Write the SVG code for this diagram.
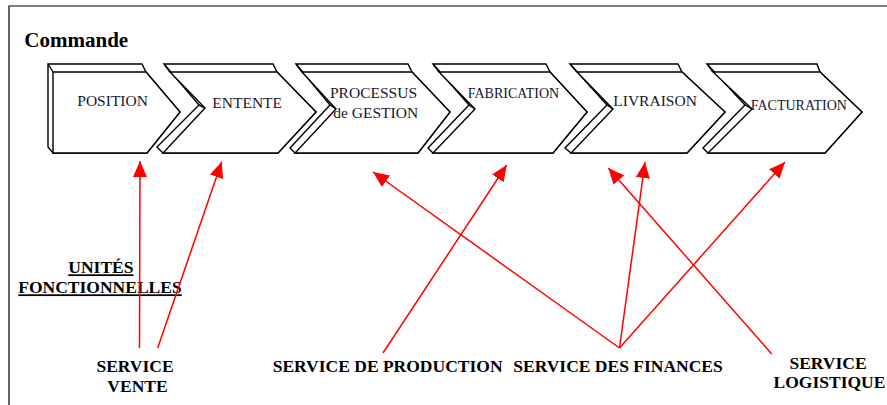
<svg xmlns="http://www.w3.org/2000/svg" width="887" height="405" viewBox="0 0 887 405">
  <style>
    .back { fill: #ffffff; stroke: #000; stroke-width: 1.4; stroke-linejoin: miter; }
    .front { fill: #ffffff; stroke: #000; stroke-width: 1.4; stroke-linejoin: miter; }
    .edge { fill: none; stroke: #000; stroke-width: 1.4; }
    .step { font-family: "Liberation Serif", "Times New Roman", serif; font-size: 15.5px; fill: #16162c; }
    .step-sm { font-size: 14px; }
    .title { font-family: "Liberation Serif", "Times New Roman", serif; font-weight: bold; fill: #000; }
    .unit { font-family: "Liberation Serif", "Times New Roman", serif; font-weight: bold; font-size: 17.5px; fill: #000; }
    .frame { stroke: #000; stroke-width: 1.2; fill: none; }
    .link { stroke: #ff0000; stroke-width: 1.5; fill: none; marker-end: url(#head); }
  </style>
  <defs>
    <marker id="head" viewBox="0 0 16 14" markerWidth="16" markerHeight="14" refX="16" refY="7" orient="auto" markerUnits="userSpaceOnUse">
      <path d="M0,0 L16,7 L0,14 Z" fill="#ff0000"/>
    </marker>
  </defs>

  <rect width="887" height="405" fill="#ffffff"/>

  <!-- page frame -->
  <path class="frame" d="M9,405 L9,6 L887,6"/>

  <text class="title" x="24.3" y="46.7" font-size="21">Commande</text>

  <!-- process chevrons -->
  <g id="position">
    <polygon class="back" points="48,64 142,64 146,72 180,112 147,153 53,153 48,147"/>
    <polygon class="front" points="53,72 146,72 180,112 147,153 53,153"/>
    <path class="edge" d="M48,64 L53,72"/>
    <text class="step" x="77.3" y="106">POSITION</text>
  </g>

  <g id="entente">
    <polygon class="back" points="164,64 273,64 277,72 316,112 278,153 163,153 157,147 199,105"/>
    <polygon class="front" points="170,72 277,72 316,112 278,153 163,153 205,108"/>
    <path class="edge" d="M164,64 L170,72 M199,105 L205,108"/>
    <text class="step" x="212.3" y="108.3">ENTENTE</text>
  </g>

  <g id="processus">
    <polygon class="back" points="296,64 408,64 412,72 450,112 418,153 295,153 290,148 330,105"/>
    <polygon class="front" points="302,72 412,72 450,112 418,153 295,153 336,109"/>
    <path class="edge" d="M296,64 L302,72 M330,105 L336,109"/>
    <text class="step" x="330" y="98.3">PROCESSUS</text>
    <text class="step" x="333.3" y="117.7">de GESTION</text>
  </g>

  <g id="fabrication">
    <polygon class="back" points="433,64 546,64 550,72 587,112 553,153 433,153 428,148 469,105"/>
    <polygon class="front" points="439,72 550,72 587,112 553,153 433,153 475,109"/>
    <path class="edge" d="M433,64 L439,72 M469,105 L475,109"/>
    <text class="step step-sm" x="467.7" y="98.3">FABRICATION</text>
  </g>

  <g id="livraison">
    <polygon class="back" points="570,64 678,64 682,72 725,112 687,153 571,153 565,148 607,105"/>
    <polygon class="front" points="577,72 682,72 725,112 687,153 571,153 613,109"/>
    <path class="edge" d="M570,64 L577,72 M607,105 L613,109"/>
    <text class="step" x="613.3" y="106">LIVRAISON</text>
  </g>

  <g id="facturation">
    <polygon class="back" points="707,64 817,64 820,72 862,112 825,153 708,153 703,148 745,105"/>
    <polygon class="front" points="713,72 820,72 862,112 825,153 708,153 752,109"/>
    <path class="edge" d="M707,64 L713,72 M745,105 L752,109"/>
    <text class="step step-sm" x="750.7" y="110">FACTURATION</text>
  </g>

  <!-- functional units -->
  <g id="unites">
    <text class="unit" x="68.3" y="273.3" text-decoration="underline">UNITÉS</text>
    <text class="unit" x="18.3" y="293.3" text-decoration="underline">FONCTIONNELLES</text>
  </g>

  <g id="service-vente">
    <text class="unit" x="135" y="371.7" text-anchor="middle">SERVICE</text>
    <text class="unit" x="137.5" y="391.7" text-anchor="middle">VENTE</text>
  </g>

  <g id="service-production">
    <text class="unit" x="272.7" y="371.7">SERVICE DE PRODUCTION</text>
  </g>

  <g id="service-finances">
    <text class="unit" x="513.3" y="371.7">SERVICE DES FINANCES</text>
  </g>

  <g id="service-logistique">
    <text class="unit" x="828" y="369.3" text-anchor="middle" font-size="15.5">SERVICE</text>
    <text class="unit" x="829.5" y="388.3" text-anchor="middle" font-size="15.5">LOGISTIQUE</text>
  </g>

  <!-- connectors -->
  <g id="connectors">
    <line class="link" x1="139.5" y1="348" x2="140" y2="161"/>
    <line class="link" x1="157.7" y1="348" x2="221.7" y2="161.7"/>
    <line class="link" x1="383" y1="353" x2="506.7" y2="165"/>
    <line class="link" x1="619.5" y1="348" x2="373" y2="172"/>
    <line class="link" x1="619.5" y1="348" x2="645" y2="162"/>
    <line class="link" x1="619.5" y1="348" x2="785" y2="162"/>
    <line class="link" x1="771.7" y1="354" x2="608.3" y2="168"/>
  </g>
</svg>
